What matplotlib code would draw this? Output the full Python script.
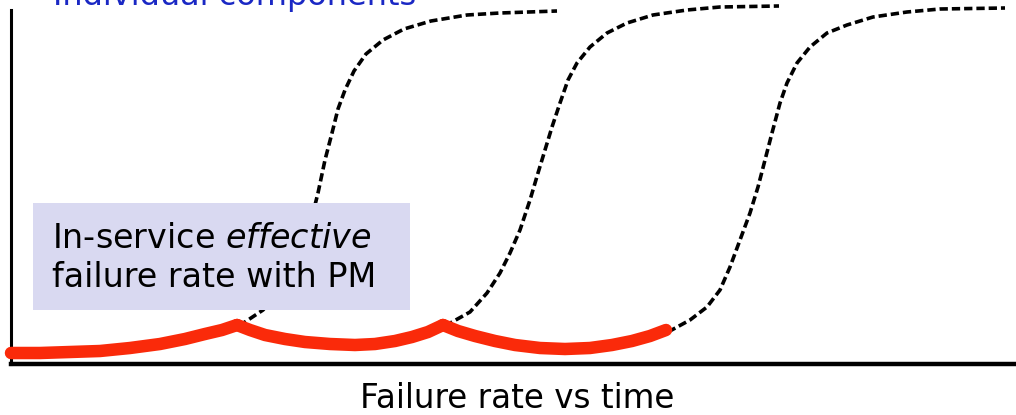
import matplotlib
matplotlib.use("Agg")
import matplotlib.pyplot as plt
from matplotlib.patches import Rectangle

# time and failure rate (arbitrary units)
comp1_t = [228, 252, 272, 289, 302, 307, 314, 321, 327, 334, 343, 355, 372, 393, 420, 456, 489, 546]
comp1_r = [38, 54, 77, 111, 151, 171, 204, 231, 255, 274, 293, 310, 324, 335, 343, 349, 351, 353]

comp2_t = [434, 459, 476, 489, 499, 509, 519, 527, 534, 541, 549, 557, 566, 579, 596, 616, 642, 676, 709, 768]
comp2_r = [38, 52, 71, 91, 111, 134, 164, 191, 214, 237, 261, 284, 301, 317, 331, 341, 349, 354, 357, 358]

comp3_t = [657, 679, 696, 709, 719, 729, 739, 747, 754, 761, 769, 776, 786, 799, 816, 836, 862, 896, 929, 994]
comp3_r = [32, 44, 57, 74, 97, 124, 151, 177, 204, 231, 261, 281, 301, 317, 331, 339, 347, 352, 355, 356]

# effective failure rate with PM, one piece per component life
pm_t = [
    [0, 29, 59, 89, 119, 149, 174, 194, 211, 226],
    [226, 239, 254, 274, 294, 319, 344, 364, 384, 401, 417, 432],
    [432, 447, 464, 484, 504, 529, 554, 579, 601, 621, 639, 655],
]
pm_r = [
    [11, 11, 12, 13, 16, 20, 25, 30, 34, 39],
    [39, 34, 29, 25, 22, 20, 19, 20, 23, 27, 32, 39],
    [39, 33, 28, 23, 19, 16, 15, 16, 19, 23, 28, 34],
]


def main():
    fig = plt.figure(figsize=(10.16, 4.15), dpi=100)
    ax = fig.add_axes([11 / 1016, 51 / 415, 1005 / 1016, 364 / 415])
    ax.set_xlim(0, 1005)
    ax.set_ylim(0, 364)

    for t, r in [(comp1_t, comp1_r), (comp2_t, comp2_r), (comp3_t, comp3_r)]:
        ax.plot(t, r, color='black', lw=2.6, linestyle=(0, (2.3, 1.1)),
                dash_capstyle='butt', zorder=2, clip_on=False)

    ax.add_patch(Rectangle((22, 54), 377, 107, facecolor='#d9d9f1',
                           edgecolor='none', zorder=3))
    ax.text(41, 116, 'In-service $\\it{effective}$', fontsize=24,
            va='baseline', zorder=4)
    ax.text(41, 77, 'failure rate with PM', fontsize=24,
            va='baseline', zorder=4)

    for t, r in zip(pm_t, pm_r):
        ax.plot(t, r, color='#fa2a0a', lw=9, solid_capstyle='round',
                solid_joinstyle='round', zorder=5, clip_on=False)

    ax.spines['top'].set_visible(False)
    ax.spines['right'].set_visible(False)
    ax.spines['left'].set_linewidth(2.2)
    ax.spines['bottom'].set_linewidth(3.2)
    ax.spines['left'].set_bounds(0, 354)
    ax.set_xticks([])
    ax.set_yticks([])
    ax.patch.set_alpha(0)

    fig.text(53 / 1016, 1 - 5 / 415, 'Individual components', color='#1a28c4',
             fontsize=23, va='baseline')
    fig.text(517 / 1016, 1 - 408 / 415, 'Failure rate vs time', fontsize=23.5,
             ha='center', va='baseline')

    fig.savefig('out.png', dpi=100)


if __name__ == '__main__':
    main()
